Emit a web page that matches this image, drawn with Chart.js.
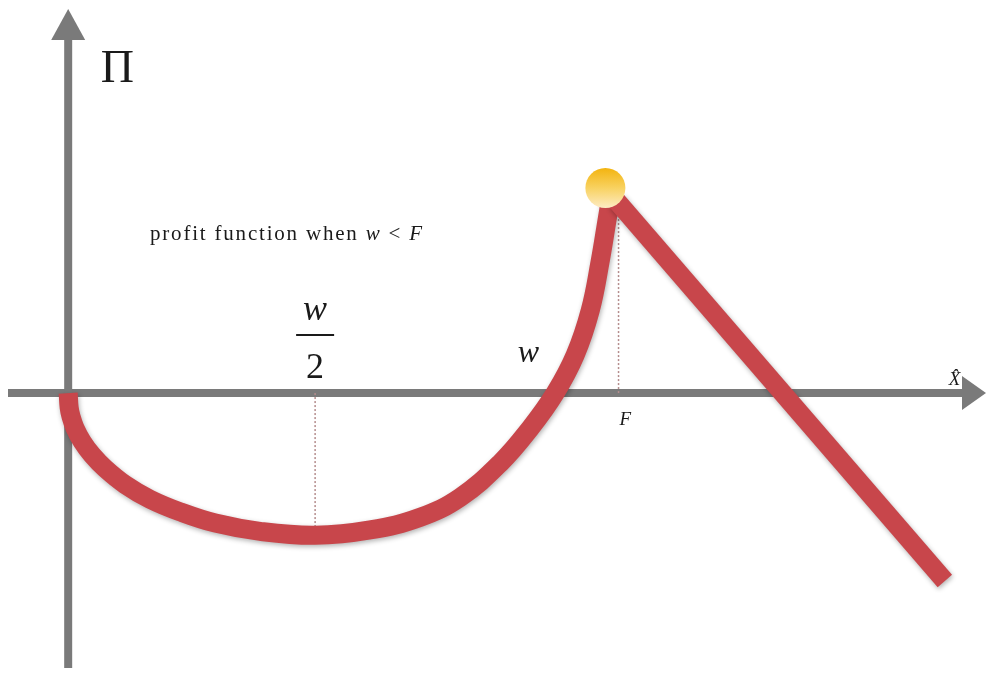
<!DOCTYPE html>
<html>
<head>
<meta charset="utf-8">
<script src="https://cdn.jsdelivr.net/npm/chart.js@4"></script>
<style>
  html, body { margin: 0; padding: 0; background: #fff; }
  #wrap { width: 996px; height: 677px; }
</style>
</head>
<body>
<div id="wrap"><canvas id="profitChart"></canvas></div>
<script>
// profit curve for X from 0 up to F (w = 10)
const curveX = [0, 0.02, 0.06, 0.14, 0.29, 0.49, 0.76, 1.17, 1.68, 2.30, 3.02, 3.94, 5.07,
                6.20, 7.23, 8.05, 8.87, 9.49, 10.0, 10.41, 10.72, 10.92, 11.07, 11.15];
const curveY = [0, -0.30, -0.49, -0.72, -1.00, -1.27, -1.55, -1.88, -2.18, -2.44, -2.67, -2.84, -2.92,
                -2.81, -2.55, -2.14, -1.44, -0.72, 0, 0.78, 1.70, 2.69, 3.59, 4.07];

// falling branch after F
const lineX = [11.25, 18.0];
const lineY = [3.96, -3.86];

// peak marker
const peakX = [11.03];
const peakY = [4.21];

// guide lines at w/2 and F
const guideHalfW = [[5.07, 0], [5.07, -2.8]];
const guideF = [[11.3, 0], [11.3, 3.9]];

const curveColor = '#c8464b';
const axisColor = '#7a7a7a';

const toPts = (xs, ys) => xs.map((x, i) => ({ x: x, y: ys[i] }));

// axes + arrows under the curves
const pluginEixos = {
  id: 'eixos',
  beforeDatasetsDraw(chart) {
    const { ctx, scales: { x, y } } = chart;
    const x0 = x.getPixelForValue(0);
    const y0 = y.getPixelForValue(0);
    ctx.save();
    ctx.strokeStyle = axisColor;
    ctx.fillStyle = axisColor;
    ctx.lineWidth = 8;
    // eixo x
    ctx.beginPath();
    ctx.moveTo(8, y0);
    ctx.lineTo(966, y0);
    ctx.stroke();
    ctx.beginPath();
    ctx.moveTo(986, y0);
    ctx.lineTo(962, y0 - 17);
    ctx.lineTo(962, y0 + 17);
    ctx.closePath();
    ctx.fill();
    // eixo y
    ctx.beginPath();
    ctx.moveTo(x0, 668);
    ctx.lineTo(x0, 36);
    ctx.stroke();
    ctx.beginPath();
    ctx.moveTo(x0, 9);
    ctx.lineTo(x0 - 17, 40);
    ctx.lineTo(x0 + 17, 40);
    ctx.closePath();
    ctx.fill();
    ctx.restore();
  }
};

// soft shadow under thick red lines
const pluginSombra = {
  id: 'sombra',
  beforeDatasetDraw(chart, args) {
    if (args.index > 1) return;
    const ctx = chart.ctx;
    ctx.save();
    ctx.shadowColor = 'rgba(0,0,0,0.3)';
    ctx.shadowBlur = 5;
    ctx.shadowOffsetX = 1;
    ctx.shadowOffsetY = 2;
  },
  afterDatasetDraw(chart, args) {
    if (args.index > 1) return;
    chart.ctx.restore();
  }
};

// text labels
const pluginTextos = {
  id: 'textos',
  afterDatasetsDraw(chart) {
    const { ctx, scales: { x, y } } = chart;
    const px = v => x.getPixelForValue(v);
    const py = v => y.getPixelForValue(v);
    ctx.save();
    ctx.fillStyle = '#1a1a1a';
    ctx.textBaseline = 'middle';
    ctx.textAlign = 'center';

    ctx.font = '46px "Liberation Serif", serif';
    ctx.fillText('Π', px(1.01), py(6.63));

    // profit function when w < F
    ctx.textAlign = 'left';
    ctx.letterSpacing = '1.8px';
    let cx = px(1.68);
    const cy = py(3.26);
    const parts = [['profit function when ', false], ['w', true], [' < ', false], ['F', true]];
    parts.forEach(([t, it]) => {
      ctx.font = (it ? 'italic ' : '') + '21px "Liberation Serif", serif';
      ctx.fillText(t, cx, cy);
      cx += ctx.measureText(t).width;
    });
    ctx.letterSpacing = '0px';

    // fraction w/2
    ctx.textAlign = 'center';
    ctx.font = 'italic 36px "Liberation Serif", serif';
    ctx.fillText('w', px(5.07), py(1.70));
    ctx.strokeStyle = '#1a1a1a';
    ctx.lineWidth = 2;
    ctx.beginPath();
    ctx.moveTo(px(5.07) - 19, py(1.19));
    ctx.lineTo(px(5.07) + 19, py(1.19));
    ctx.stroke();
    ctx.font = '36px "Liberation Serif", serif';
    ctx.fillText('2', px(5.07), py(0.51));

    ctx.font = 'italic 32px "Liberation Serif", serif';
    ctx.fillText('w', px(9.45), py(0.80));

    ctx.font = 'italic 19px "Liberation Serif", serif';
    ctx.fillText('F', px(11.44), py(-0.55));

    ctx.font = 'italic 19px "Liberation Serif", serif';
    ctx.fillText('X\u0302', px(18.2), py(0.26));
    ctx.restore();
  }
};

const el = document.getElementById('profitChart');

new Chart(el, {
  type: 'scatter',
  data: {
    datasets: [
      {
        label: 'curva',
        data: toPts(curveX, curveY),
        showLine: true,
        borderColor: curveColor,
        borderWidth: 19,
        borderCapStyle: 'butt',
        tension: 0.4,
        pointRadius: 0,
        order: 3
      },
      {
        label: 'reta',
        data: toPts(lineX, lineY),
        showLine: true,
        borderColor: curveColor,
        borderWidth: 19,
        borderCapStyle: 'butt',
        pointRadius: 0,
        order: 2
      },
      {
        label: 'guia w/2',
        data: guideHalfW.map(p => ({ x: p[0], y: p[1] })),
        showLine: true,
        borderColor: '#b48c8c',
        borderWidth: 1.5,
        borderDash: [2, 2],
        pointRadius: 0,
        order: 4
      },
      {
        label: 'guia F',
        data: guideF.map(p => ({ x: p[0], y: p[1] })),
        showLine: true,
        borderColor: '#b48c8c',
        borderWidth: 1.5,
        borderDash: [2, 2],
        pointRadius: 0,
        order: 4
      },
      {
        label: 'pico',
        data: toPts(peakX, peakY),
        pointRadius: 20,
        pointHoverRadius: 20,
        pointBorderWidth: 0,
        pointBackgroundColor: (c) => {
          const { chart } = c;
          if (!chart.chartArea) return '#f4b400';
          const cxp = chart.scales.x.getPixelForValue(peakX[0]);
          const cyp = chart.scales.y.getPixelForValue(peakY[0]);
          const g = chart.ctx.createLinearGradient(cxp, cyp - 20, cxp, cyp + 20);
          g.addColorStop(0, '#f3b40f');
          g.addColorStop(0.5, '#f8d261');
          g.addColorStop(1, '#fdebc4');
          return g;
        },
        order: 1
      }
    ]
  },
  options: {
    responsive: true,
    maintainAspectRatio: false,
    animation: false,
    layout: { padding: 0, autoPadding: false },
    scales: {
      x: { type: 'linear', min: -1.4, max: 19.05, display: false },
      y: { type: 'linear', min: -5.83, max: 8.07, display: false }
    },
    plugins: {
      legend: { display: false },
      tooltip: { enabled: false }
    }
  },
  plugins: [pluginEixos, pluginSombra, pluginTextos]
});
</script>
</body>
</html>
